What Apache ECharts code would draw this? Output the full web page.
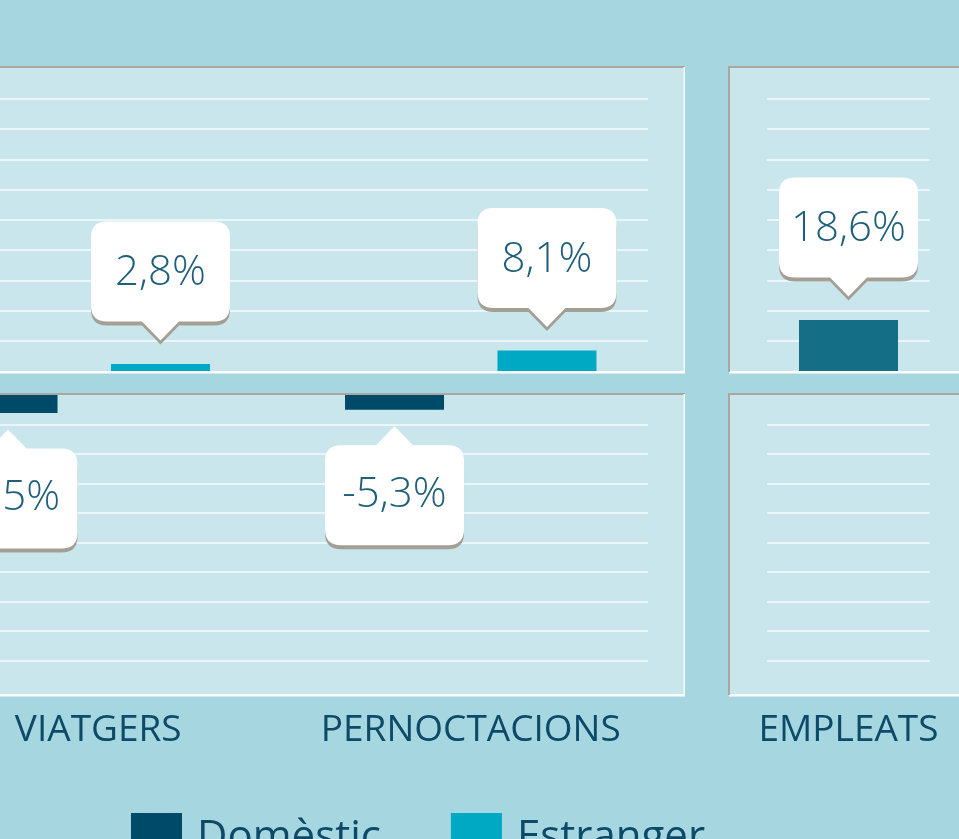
<!DOCTYPE html>
<html>
<head>
<meta charset="utf-8">
<script src="https://cdn.jsdelivr.net/npm/echarts@6/dist/echarts.min.js"></script>
<style>
  html, body { margin: 0; padding: 0; background: #a6d7e1; }
  #chart { width: 959px; height: 839px; }
</style>
</head>
<body>
<div id="chart"></div>
<script>
// dades
var categories = ['VIATGERS', 'PERNOCTACIONS']
var domestic = [-6.5, -5.3]
var foreign = [2.8, 8.1]
var empCategories = ['EMPLEATS']
var employees = [18.6]
var legendNames = ['Domèstic', 'Estranger']

var BG = '#a6d7e1'
var PANEL = '#c9e6ec'
var GRIDLINE = '#eaf6f9'
var EDGE = '#aaa79f'
var DARK = '#004a69'
var LIGHT = '#00a9c3'
var MID = '#136e86'
var TEXT = '#0c4a68'
var FONT = '"Open Sans", "DejaVu Sans", sans-serif'

var pinDown = 'path://M16 0H123Q139 0 139 16V84Q139 100 123 100H88L69.5 119L51 100H16Q0 100 0 84V16Q0 0 16 0Z'
var pinUp = 'path://M16 19H51L69.5 0L88 19H123Q139 19 139 35V103Q139 119 123 119H16Q0 119 0 103V35Q0 19 16 19Z'

function pct (v) {
  return v.toFixed(1).replace('.', ',') + '%'
}

function callouts (cats, values, up) {
  return {
    symbol: up ? pinUp : pinDown,
    symbolSize: [139, 119],
    symbolOffset: [0, up ? 76 : -83],
    itemStyle: {
      color: '#fff',
      shadowColor: '#a49f95',
      shadowOffsetY: 4,
      shadowBlur: 0
    },
    label: {
      show: true,
      position: 'inside',
      offset: [0, up ? 9 : -8],
      color: '#1f5f7b',
      fontSize: 42,
      fontWeight: 300,
      fontFamily: FONT,
      formatter: function (p) { return pct(p.value) }
    },
    data: values.map(function (v, i) {
      return { coord: [cats[i], v], value: v }
    })
  }
}

// panells (decoració de fons)
function panel (x1, y1, x2, y2, leftEdge) {
  var els = [
    { type: 'rect', z: -10, shape: { x: x1, y: y1, width: x2 - x1, height: y2 - y1 }, style: { fill: PANEL } },
    { type: 'rect', z: -5, shape: { x: x1, y: y1 - 1, width: x2 - x1, height: 2 }, style: { fill: EDGE } },
    { type: 'rect', z: -5, shape: { x: x1, y: y2 - 2, width: x2 - x1, height: 2.5 }, style: { fill: '#fff' } },
    { type: 'rect', z: -5, shape: { x: x2 - 1.5, y: y1, width: 1.5, height: y2 - y1 }, style: { fill: '#f4fbfc' } }
  ]
  if (leftEdge) {
    els.push({ type: 'rect', z: -5, shape: { x: x1 - 1, y: y1 - 1, width: 2, height: y2 - y1 }, style: { fill: EDGE } })
  }
  return els
}

var chart = echarts.init(document.getElementById('chart'))

var hiddenX = { type: 'value', min: 0, max: 1, show: false }
function linesY (min, max, interval, showMax, showMin) {
  return {
    type: 'value',
    min: min,
    max: max,
    interval: interval,
    axisLine: { show: false },
    axisTick: { show: false },
    axisLabel: { show: false },
    splitLine: { show: true, showMaxLine: showMax, showMinLine: showMin, lineStyle: { color: GRIDLINE, width: 2 } }
  }
}
function plainY (min, max, interval) {
  return {
    type: 'value',
    min: min,
    max: max,
    interval: interval,
    show: false,
    splitLine: { show: false }
  }
}
function catX (data, showLabel) {
  return {
    type: 'category',
    data: data,
    axisLine: { show: false },
    axisTick: { show: false },
    splitLine: { show: false },
    axisLabel: {
      show: showLabel,
      interval: 0,
      margin: 51,
      color: TEXT,
      fontSize: 37,
      fontFamily: FONT,
      formatter: function (v, i) { return (i === 0 && data.length > 1) ? '{s|' + v + '}' : v },
      rich: { s: { padding: [0, 0, 0, 28], color: TEXT, fontSize: 37, fontFamily: FONT } }
    }
  }
}
function grid (left, top, width, height) {
  return { left: left, top: top, width: width, height: height, outerBoundsMode: 'none', containLabel: false }
}

var option = {
  backgroundColor: BG,
  animation: false,
  graphic: [].concat(
    panel(-20, 67, 685, 373, false),
    panel(-20, 394, 685, 696, false),
    panel(729, 67, 980, 373, true),
    panel(729, 394, 980, 696, true)
  ),
  legend: {
    data: legendNames,
    left: 131,
    top: 813,
    padding: 0,
    icon: 'rect',
    itemWidth: 51,
    itemHeight: 51,
    itemGap: 70,
    textStyle: { color: TEXT, fontSize: 42, fontFamily: FONT, padding: [0, 0, 0, 10] }
  },
  grid: [
    grid(-125, 99, 773, 272),
    grid(-125, 395, 773, 265.5),
    grid(-109, 99, 773, 272),
    grid(-109, 395, 773, 265.5),
    grid(767, 99, 163, 272),
    grid(767, 395, 163, 265.5)
  ],
  xAxis: [
    Object.assign({ gridIndex: 0 }, hiddenX),
    Object.assign({ gridIndex: 1 }, hiddenX),
    Object.assign({ gridIndex: 2 }, catX(categories, false)),
    Object.assign({ gridIndex: 3 }, catX(categories, true)),
    Object.assign({ gridIndex: 4 }, catX(empCategories, false)),
    Object.assign({ gridIndex: 5 }, catX(empCategories, true))
  ],
  yAxis: [
    Object.assign({ gridIndex: 0 }, linesY(0, 108, 12, true, false)),
    Object.assign({ gridIndex: 1 }, linesY(-108, 0, 12, false, true)),
    Object.assign({ gridIndex: 2 }, plainY(0, 108, 12)),
    Object.assign({ gridIndex: 3 }, plainY(-96, 0, 12)),
    Object.assign({ gridIndex: 4 }, linesY(0, 99, 11, true, false)),
    Object.assign({ gridIndex: 5 }, linesY(-108, 0, 12, false, true))
  ],
  series: [
    {
      name: 'Domèstic',
      type: 'bar',
      xAxisIndex: 3,
      yAxisIndex: 3,
      barWidth: 99,
      barGap: '54%',
      itemStyle: { color: DARK },
      data: domestic,
      markPoint: callouts(categories, domestic, true)
    },
    {
      name: 'Estranger',
      type: 'bar',
      xAxisIndex: 3,
      yAxisIndex: 3,
      barWidth: 99,
      barGap: '54%',
      itemStyle: { color: LIGHT },
      data: ['-', '-']
    },
    {
      name: 'Domèstic',
      type: 'bar',
      xAxisIndex: 2,
      yAxisIndex: 2,
      barWidth: 99,
      barGap: '54%',
      itemStyle: { color: DARK },
      data: ['-', '-']
    },
    {
      name: 'Estranger',
      type: 'bar',
      xAxisIndex: 2,
      yAxisIndex: 2,
      barWidth: 99,
      barGap: '54%',
      itemStyle: { color: LIGHT },
      data: foreign,
      markPoint: callouts(categories, foreign, false)
    },
    {
      name: 'Empleats',
      type: 'bar',
      xAxisIndex: 4,
      yAxisIndex: 4,
      barWidth: 99,
      itemStyle: { color: MID },
      data: employees,
      markPoint: callouts(empCategories, employees, false)
    }
  ]
}

chart.setOption(option)
</script>
</body>
</html>
